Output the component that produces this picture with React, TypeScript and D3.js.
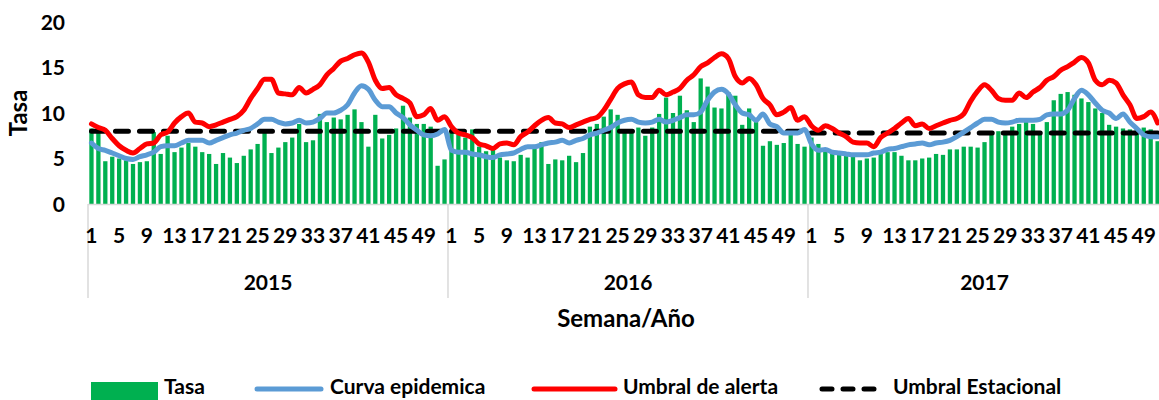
import React from "react";
import * as d3 from "d3";

const years = ["2015", "2016", "2017"];
const weeksPerYear = [52, 52, 51];

const tasa2015 = [8.3, 7.9, 4.7, 5.2, 5.0, 4.8, 4.4, 4.6, 4.7, 7.9, 5.5, 7.5, 5.7, 6.2, 6.7, 6.3, 5.7, 5.5, 4.4, 5.6, 5.1, 4.5, 5.3, 6.0, 6.6, 7.8, 5.6, 6.2, 6.8, 7.3, 8.8, 6.8, 7.0, 9.9, 9.0, 9.5, 9.3, 9.8, 10.4, 9.0, 6.3, 9.8, 7.2, 7.6, 8.3, 10.8, 9.5, 8.8, 8.8, 8.5, 4.2, 4.9];
const tasa2016 = [7.8, 7.6, 7.3, 8.2, 6.3, 5.8, 6.0, 5.1, 4.8, 4.7, 5.4, 5.1, 6.5, 6.8, 4.4, 4.9, 4.8, 5.3, 4.6, 5.6, 8.5, 8.8, 9.6, 10.4, 9.8, 8.0, 7.9, 8.4, 7.5, 8.4, 9.9, 11.7, 10.0, 11.9, 10.3, 9.0, 13.8, 12.9, 10.6, 10.5, 12.3, 11.9, 8.7, 10.5, 9.0, 6.4, 6.9, 6.5, 6.7, 7.9, 6.6, 6.3];
const tasa2017 = [7.3, 6.6, 6.0, 5.8, 5.6, 5.5, 5.3, 4.8, 5.0, 5.1, 5.5, 5.7, 5.7, 5.3, 4.8, 4.8, 5.0, 5.1, 5.5, 5.4, 6.0, 6.0, 6.3, 6.3, 6.2, 6.8, 7.6, 8.0, 8.0, 8.5, 8.8, 9.3, 8.8, 7.6, 9.0, 11.4, 12.1, 12.3, 12.0, 11.6, 11.2, 10.5, 10.0, 8.7, 8.5, 8.3, 8.2, 8.3, 8.4, 8.2, 6.9];

const curva2015 = [6.7, 6.1, 5.9, 5.6, 5.3, 5.0, 4.9, 5.2, 5.4, 5.7, 6.3, 6.4, 6.4, 6.7, 7.0, 7.0, 7.0, 6.7, 7.0, 7.3, 7.6, 7.8, 8.1, 8.3, 8.8, 9.3, 9.3, 9.0, 8.8, 8.9, 9.2, 8.9, 9.0, 9.4, 10.0, 10.0, 10.3, 10.9, 12.2, 13.0, 12.6, 11.4, 10.7, 10.7, 10.0, 9.5, 8.7, 8.1, 7.6, 7.5, 7.7, 8.2];
const curva2016 = [5.9, 5.7, 5.7, 5.5, 5.4, 5.2, 5.1, 5.4, 5.5, 5.6, 6.0, 6.3, 6.3, 6.5, 6.7, 6.8, 7.0, 6.7, 7.0, 7.2, 7.6, 7.8, 8.1, 8.4, 8.9, 9.2, 9.3, 9.0, 8.9, 9.0, 9.3, 9.0, 9.2, 9.5, 9.8, 9.8, 10.1, 11.4, 12.3, 12.6, 12.1, 10.9, 10.0, 9.8, 9.2, 9.9, 8.8, 8.5, 7.8, 7.8, 7.8, 8.2];
const curva2017 = [6.6, 5.9, 6.0, 5.7, 5.6, 5.5, 5.4, 5.4, 5.4, 5.6, 5.7, 6.0, 6.1, 6.3, 6.5, 6.6, 6.7, 6.5, 6.7, 6.8, 7.0, 7.4, 7.9, 8.4, 8.9, 9.3, 9.3, 9.0, 8.9, 9.0, 9.2, 9.2, 9.2, 9.3, 9.8, 9.9, 9.9, 10.3, 11.6, 12.5, 12.0, 11.1, 10.3, 10.0, 9.4, 9.9, 9.0, 8.3, 7.6, 7.4, 7.4];

const alerta2015 = [8.8, 8.4, 8.1, 7.2, 6.4, 5.9, 5.6, 6.1, 6.6, 6.7, 7.6, 7.9, 8.9, 9.6, 10.0, 9.0, 8.9, 8.5, 8.7, 9.0, 9.3, 9.6, 10.3, 11.6, 12.7, 13.7, 13.7, 12.2, 12.1, 12.0, 12.8, 12.2, 12.6, 13.1, 14.2, 14.9, 15.7, 16.0, 16.4, 16.6, 15.6, 13.6, 12.7, 12.8, 12.0, 11.6, 11.1, 9.6, 9.8, 10.5, 9.2, 9.6];
const alerta2016 = [8.5, 7.8, 7.6, 7.3, 6.6, 6.4, 6.1, 6.6, 6.7, 6.5, 7.4, 7.9, 8.6, 9.2, 9.5, 8.9, 8.8, 8.4, 8.7, 9.0, 9.3, 9.5, 10.3, 11.5, 12.7, 13.2, 13.4, 12.0, 11.7, 11.7, 12.5, 12.0, 12.3, 12.7, 13.6, 14.2, 15.1, 15.5, 16.1, 16.5, 16.0, 14.0, 13.3, 13.8, 13.1, 11.6, 10.9, 9.8, 10.1, 10.6, 9.2, 9.6];
const alerta2017 = [8.6, 8.1, 8.6, 8.3, 7.8, 7.4, 6.8, 6.7, 6.7, 6.3, 7.3, 7.8, 8.3, 8.9, 9.4, 8.6, 8.8, 8.3, 8.6, 8.9, 9.2, 9.4, 9.9, 11.3, 12.4, 13.1, 12.5, 11.6, 11.4, 11.4, 12.2, 11.7, 12.3, 12.8, 13.6, 14.0, 14.7, 15.1, 15.6, 16.1, 15.5, 13.6, 13.1, 13.6, 13.3, 12.0, 10.9, 9.4, 9.6, 10.1, 8.9];

// Umbral Estacional: one seasonal threshold per year
const estacionalPorAno = [8.0, 8.0, 7.8];

const yTicks = [0, 5, 10, 15, 20];
const weekLabelStep = 4;

const legendItems = ["Tasa", "Curva epidemica", "Umbral de alerta", "Umbral Estacional"];

const FONT = "Lato, 'Open Sans', 'Liberation Sans', sans-serif";
const GREEN = "#00B050";
const BLUE = "#5B9BD5";
const RED = "#FF0000";

type Pt = { i: number; year: string; week: number; tasa: number; curva: number; alerta: number; est: number };

export default function App() {
  const tasaY = [tasa2015, tasa2016, tasa2017];
  const curvaY = [curva2015, curva2016, curva2017];
  const alertaY = [alerta2015, alerta2016, alerta2017];
  const pts: Pt[] = [];
  years.forEach((yr, yi) => {
    for (let w = 0; w < weeksPerYear[yi]; w++) {
      pts.push({
        i: pts.length,
        year: yr,
        week: w + 1,
        tasa: tasaY[yi][w],
        curva: curvaY[yi][w],
        alerta: alertaY[yi][w],
        est: estacionalPorAno[yi],
      });
    }
  });

  const step = 6.923;
  const x0 = 88;
  const x1 = x0 + step * pts.length;
  const x = d3.scaleBand<number>().domain(pts.map((p) => p.i)).range([x0, x1]).paddingInner(0.38).paddingOuter(0.19);
  const y = d3.scaleLinear().domain([0, 20]).range([204, 22]);
  const cx = (i: number) => (x(i) as number) + x.bandwidth() / 2;

  const mk = (acc: (p: Pt) => number) =>
    d3.line<Pt>().x((p) => cx(p.i)).y((p) => y(acc(p))).curve(d3.curveMonotoneX)(pts) || "";

  const bounds: number[] = [x0];
  let acc = 0;
  weeksPerYear.forEach((n) => {
    acc += n;
    bounds.push(x0 + step * acc);
  });

  const legendY = 389;
  const legendText = 394;
  const fs = 21;

  return (
    <svg width={1159} height={400} style={{ position: "absolute", left: 0, top: 0 }} fontFamily={FONT} fontWeight="bold">
      <rect width={1159} height={400} fill="#fff" />
      {yTicks.map((t) => (
        <text key={t} x={65} y={y(t)} dy="0.36em" textAnchor="end" fontSize={fs} fill="#000">
          {t}
        </text>
      ))}
      <text transform={`translate(27,113) rotate(-90)`} textAnchor="middle" fontSize={24} fill="#000">
        Tasa
      </text>

      {pts.map((p) => (
        <rect key={p.i} x={x(p.i)} y={y(p.tasa)} width={x.bandwidth()} height={y(0) - y(p.tasa)} fill={GREEN} />
      ))}

      <line x1={x0} x2={x1} y1={204.5} y2={204.5} stroke="#D9D9D9" strokeWidth={1.5} />
      {bounds.map((b, k) => (
        <line key={k} x1={b} x2={b} y1={204} y2={298} stroke="#D9D9D9" strokeWidth={1.5} />
      ))}

      <path d={mk((p) => p.est)} fill="none" stroke="#000" strokeWidth={5} strokeDasharray="13 11" strokeLinecap="round" />
      <path d={mk((p) => p.curva)} fill="none" stroke={BLUE} strokeWidth={5} strokeLinejoin="round" strokeLinecap="round" />
      <path d={mk((p) => p.alerta)} fill="none" stroke={RED} strokeWidth={5} strokeLinejoin="round" strokeLinecap="round" />

      {pts
        .filter((p) => (p.week - 1) % weekLabelStep === 0)
        .map((p) => (
          <text key={"w" + p.i} x={cx(p.i)} y={243} textAnchor="middle" fontSize={fs} fill="#000">
            {p.week}
          </text>
        ))}
      {years.map((yr, k) => (
        <text key={yr} x={(bounds[k] + bounds[k + 1]) / 2} y={290} textAnchor="middle" fontSize={fs} fill="#000">
          {yr}
        </text>
      ))}
      <text x={626} y={327} textAnchor="middle" fontSize={24} fill="#000">
        Semana/Año
      </text>

      <rect x={91} y={382} width={67} height={18} fill={GREEN} />
      <text x={164} y={legendText} fontSize={21} fill="#000">{legendItems[0]}</text>
      <line x1={257} x2={321} y1={legendY} y2={legendY} stroke={BLUE} strokeWidth={5} strokeLinecap="round" />
      <text x={330} y={legendText} fontSize={21} fill="#000">{legendItems[1]}</text>
      <line x1={534} x2={615} y1={legendY} y2={legendY} stroke={RED} strokeWidth={5} strokeLinecap="round" />
      <text x={623} y={legendText} fontSize={21} fill="#000">{legendItems[2]}</text>
      <line x1={822} x2={878} y1={legendY} y2={legendY} stroke="#000" strokeWidth={5} strokeDasharray="10 11" strokeLinecap="round" />
      <text x={893} y={legendText} fontSize={21} fill="#000">{legendItems[3]}</text>
    </svg>
  );
}
